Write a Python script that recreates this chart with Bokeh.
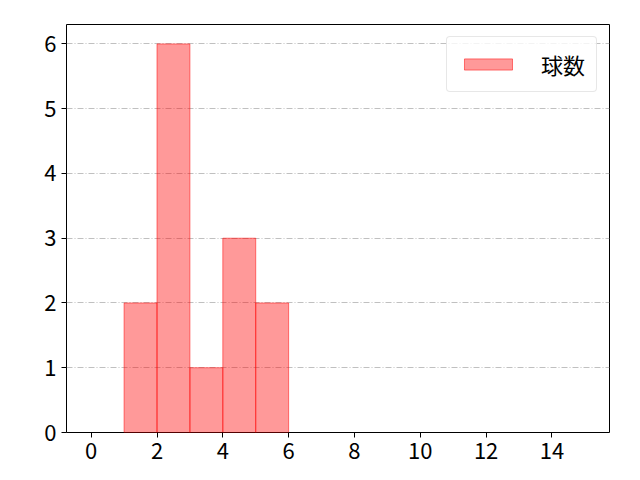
from bokeh.embed import file_html
from bokeh.models import FixedTicker, Range1d
from bokeh.plotting import figure
from bokeh.resources import INLINE

# histogram data
bin_left = [1, 2, 3, 4, 5]
bin_right = [2, 3, 4, 5, 6]
counts = [2, 6, 1, 3, 2]
x_ticks = [0, 2, 4, 6, 8, 10, 12, 14]
y_ticks = [0, 1, 2, 3, 4, 5, 6]

FONT = "Noto Sans CJK JP"

p = figure(width=632, height=472, output_backend="svg", toolbar_location=None,
           x_range=Range1d(-0.75, 15.75), y_range=Range1d(0, 6.3),
           min_border_left=66, min_border_right=23, min_border_top=24, min_border_bottom=40)

p.quad(left=bin_left, right=bin_right, bottom=0, top=counts,
       fill_color="red", fill_alpha=0.4, line_color="red", line_alpha=0.5, line_width=1,
       legend_label="球数")

p.outline_line_color = "black"
p.outline_line_width = 1
p.xgrid.grid_line_color = None
p.ygrid.grid_line_color = "#b0b0b0"
p.ygrid.grid_line_dash = "6 2 1 2"
p.ygrid.grid_line_width = 0.8

p.xaxis.ticker = FixedTicker(ticks=x_ticks)
p.yaxis.ticker = FixedTicker(ticks=y_ticks)
for ax in (p.xaxis[0], p.yaxis[0]):
    ax.axis_line_color = None
    ax.minor_tick_line_color = None
    ax.major_tick_line_color = "black"
    ax.major_tick_out = 5
    ax.major_tick_in = 0
    ax.major_label_standoff = 5
    ax.major_label_text_font = FONT
    ax.major_label_text_font_size = "22px"
    ax.major_label_text_color = "black"

p.legend.location = "top_right"
p.legend.label_text_font = FONT
p.legend.label_text_font_size = "22px"
p.legend.label_text_color = "black"
p.legend.border_line_color = "#d0d0d0"
p.legend.border_radius = 4
p.legend.glyph_width = 60
p.legend.glyph_height = 14
p.legend.label_standoff = 23
p.legend.padding = 11
p.legend.margin = 12
p.legend.background_fill_alpha = 0.8

open("out.html", "w").write(file_html(p, INLINE))
